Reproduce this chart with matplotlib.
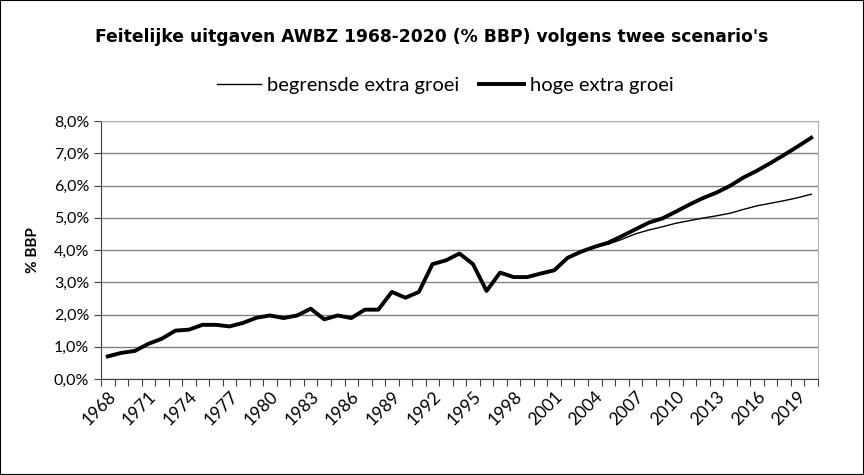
import numpy as np
import matplotlib
matplotlib.use("Agg")
import matplotlib.pyplot as plt
from matplotlib.ticker import FuncFormatter

plt.rcParams['font.family'] = ['Lato', 'DejaVu Sans']

# Jaren en waarden (% BBP)
years = list(range(1968, 2021))

historisch = [0.70, 0.81, 0.87, 1.09, 1.25, 1.50, 1.53, 1.68, 1.68, 1.63,
              1.74, 1.90, 1.97, 1.89, 1.97, 2.18, 1.85, 1.97, 1.89, 2.15,
              2.15, 2.70, 2.52, 2.70, 3.56, 3.68, 3.89, 3.56, 2.73, 3.30,
              3.16, 3.16, 3.27, 3.37, 3.76, 3.95, 4.10]

begrensd_extra = [4.18, 4.33, 4.50, 4.62, 4.72, 4.83, 4.91, 4.99, 5.06, 5.14,
                  5.26, 5.37, 5.45, 5.53, 5.62, 5.73]
hoge_extra = [4.23, 4.43, 4.64, 4.85, 4.98, 5.19, 5.41, 5.61, 5.78, 5.99,
              6.25, 6.46, 6.70, 6.95, 7.21, 7.48]

begrensd = historisch + begrensd_extra
hoog = historisch + hoge_extra

title = "Feitelijke uitgaven AWBZ 1968-2020 (% BBP) volgens twee scenario's"
labels = ["begrensde extra groei", "hoge extra groei"]

fig = plt.figure(figsize=(8.64, 4.75), dpi=100)
ax = fig.add_axes([101 / 864, 1 - 379 / 475, 717 / 864, 258 / 475])

x = np.arange(len(years))
l1, = ax.plot(x, begrensd, color="black", lw=1.0, zorder=3)
l2, = ax.plot(x, hoog, color="black", lw=2.8, zorder=4)

ax.set_xlim(-0.5, len(years) - 0.5)
ax.set_ylim(0, 8)

# y-as
ax.set_yticks(np.arange(0, 9, 1))
ax.yaxis.set_major_formatter(FuncFormatter(lambda v, p: f"{v:.1f}%".replace(".", ",")))
ax.grid(axis="y", color="#808080", lw=1.0)
ax.set_axisbelow(True)
ax.set_ylabel("% BBP", fontsize=11, fontweight="bold", labelpad=10)

# x-as: streepjes tussen categorieen, labels om de 3 jaar
ax.set_xticks(np.arange(-0.5, len(years), 1))
ax.set_xticklabels([])
ax.set_xticks(x[::3], minor=True)
ax.set_xticklabels([str(y) for y in years[::3]], minor=True, rotation=45,
                   ha="right", va="top", rotation_mode="anchor")
ax.tick_params(axis="x", which="major", length=5, color="#404040", direction="out")
ax.tick_params(axis="x", which="minor", length=0, labelsize=12.5, pad=7)
ax.tick_params(axis="y", length=5, color="#404040", labelsize=11.5)

for side in ["top", "right"]:
    ax.spines[side].set_color("#b0b0b0")
for side in ["left", "bottom"]:
    ax.spines[side].set_color("#404040")

fig.text(0.5, 1 - 37 / 475, title, ha="center", va="center", fontsize=12.3,
         fontweight="bold", family="DejaVu Sans")
fig.legend([l1, l2], labels, loc="center", bbox_to_anchor=(445 / 864, 1 - 85 / 475),
           ncol=2, frameon=False, fontsize=14.5,
           handlelength=2.2, handletextpad=0.3, columnspacing=1.0)

# kader om de figuur
fig.patches.append(plt.Rectangle((0, 0), 1, 1, transform=fig.transFigure,
                                 fill=False, edgecolor="black", lw=1.5))

fig.savefig("out.png", dpi=100)
